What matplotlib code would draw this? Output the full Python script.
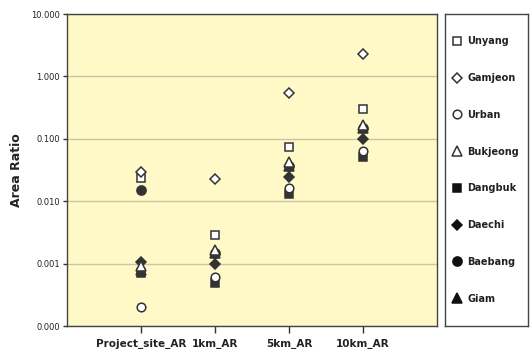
import matplotlib
matplotlib.use("Agg")
import matplotlib.pyplot as plt
from matplotlib.lines import Line2D
from matplotlib.ticker import FixedLocator, FixedFormatter, NullLocator

categories = ["Project_site_AR", "1km_AR", "5km_AR", "10km_AR"]
series_names = ["Unyang", "Gamjeon", "Urban", "Bukjeong", "Dangbuk", "Daechi", "Baebang", "Giam"]
unyang   = [0.0235, 0.0029, 0.074, 0.30]
gamjeon  = [0.029, 0.0225, 0.54, 2.3]
urban    = [0.0002, 0.00061, 0.016, 0.063]
bukjeong = [0.0009, 0.00166, 0.042, 0.166]
dangbuk  = [0.0007, 0.00049, 0.013, 0.051]
daechi   = [0.00106, 0.00099, 0.0245, 0.10]
baebang  = [0.015, 0.0015, 0.037, 0.148]
giam     = [0.0008, 0.0015, 0.037, 0.148]
ytick_vals = [0.0001, 0.001, 0.01, 0.1, 1, 10]
ytick_labels = ["0.000", "0.001", "0.010", "0.100", "1.000", "10.000"]

values = [unyang, gamjeon, urban, bukjeong, dangbuk, daechi, baebang, giam]
markers = ["s", "D", "o", "^", "s", "D", "o", "^"]
filled = [False, False, False, False, True, True, True, True]
sizes = [6.2, 5.2, 6.2, 6.6, 6.2, 5.2, 6.6, 6.6]
zorders = [4, 4, 4, 5, 3, 3, 3, 2]

edge = "#333333"
fig = plt.figure(figsize=(5.3, 3.49), dpi=100)
ax = fig.add_axes([67/530, 23/349, 370/530, 312/349])
ax.set_facecolor("#FFF9C8")
xs = list(range(1, len(categories) + 1))

handles = []
for name, v, m, f, s, z in zip(series_names, values, markers, filled, sizes, zorders):
    fc = edge if f else "white"
    ax.plot(xs, v, linestyle="none", marker=m, markersize=s, markerfacecolor=fc,
            markeredgecolor=edge, markeredgewidth=1.1, zorder=z)
    handles.append(Line2D([], [], linestyle="none", marker=m, markersize=s,
                          markerfacecolor="#111111" if f else "white",
                          markeredgecolor="#111111" if f else edge,
                          markeredgewidth=1.1))

ax.set_yscale("log")
ax.set_ylim(0.0001, 10)
ax.set_xlim(0, 5)
ax.yaxis.set_major_locator(FixedLocator(ytick_vals))
ax.yaxis.set_major_formatter(FixedFormatter(ytick_labels))
ax.yaxis.set_minor_locator(NullLocator())
ax.set_xticks(xs)
ax.set_xticklabels(categories, fontsize=7.5, fontweight="bold", color="#222222")
for lab in ax.get_yticklabels():
    lab.set_fontsize(6)
    lab.set_color("#222222")
ax.grid(axis="y", color="#C9C4A2", linewidth=1.0, zorder=1)
ax.set_axisbelow(True)
ax.tick_params(axis="x", length=5, width=1, color="#333333", pad=4)
ax.tick_params(axis="y", length=3, width=1, color="#333333", pad=2)
for sp in ax.spines.values():
    sp.set_color("#444444")
    sp.set_linewidth(1.0)
ax.set_ylabel("Area Ratio", fontsize=9, fontweight="bold", color="#222222", labelpad=6)

lax = fig.add_axes([445/530, 23/349, 83/530, 312/349])
lax.set_xticks([])
lax.set_yticks([])
for sp in lax.spines.values():
    sp.set_color("#444444")
    sp.set_linewidth(1.0)
leg = lax.legend(handles, series_names, loc="center left", frameon=False,
                 labelspacing=2.75, handlelength=0.9, handletextpad=0.6,
                 borderaxespad=0.0, bbox_to_anchor=(0.05, 0.5),
                 prop={"size": 7, "weight": "bold"})
for t in leg.get_texts():
    t.set_color("#222222")

fig.savefig("out.png", dpi=100)
